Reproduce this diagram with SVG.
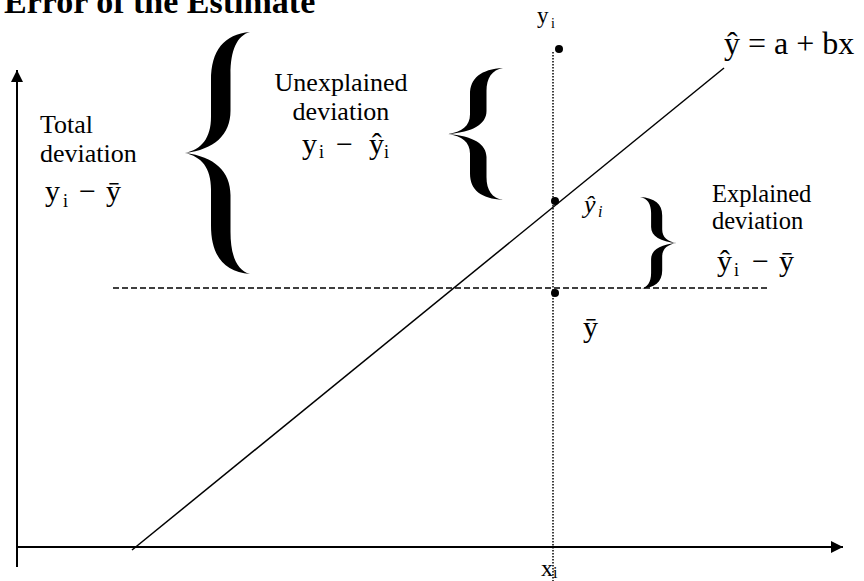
<svg xmlns="http://www.w3.org/2000/svg" width="864" height="581" viewBox="0 0 864 581">
<style>
.t{font-family:"Liberation Serif","Times New Roman",serif;font-size:26px;fill:#000}
.m{font-family:"Liberation Serif","DejaVu Serif",serif;font-size:30px;fill:#000}
.s{font-family:"Liberation Serif","DejaVu Serif",serif;font-size:18px;fill:#000}
.ax{stroke:#000;stroke-width:2;fill:none}
.ln{stroke:#000;stroke-width:1.5;fill:none}
.dash{stroke:#000;stroke-width:1.5;stroke-dasharray:6 3;fill:none}
.dotl{stroke:#000;stroke-width:1.5;stroke-dasharray:1.5 1.5;fill:none}
.br{fill:#000}
</style>
<defs>
<path id="brace" d="M 1,-1 C 0.6,-0.98 0.4,-0.85 0.4,-0.6 L 0.4,-0.3 C 0.4,-0.12 0.25,-0.03 0,0 C 0.25,0.03 0.4,0.12 0.4,0.3 L 0.4,0.6 C 0.4,0.85 0.6,0.98 1,1 C 0.8,0.97 0.7,0.85 0.7,0.65 L 0.7,0.35 C 0.7,0.15 0.45,0.03 0,0 C 0.45,-0.03 0.7,-0.15 0.7,-0.35 L 0.7,-0.65 C 0.7,-0.85 0.8,-0.97 1,-1 Z"/>
<marker id="arr" markerUnits="userSpaceOnUse" markerWidth="14" markerHeight="14" refX="12" refY="6" orient="auto">
<path d="M0,0 L12,6 L0,12 Z" fill="#000"/>
</marker>
</defs>
<rect width="864" height="581" fill="#fff"/>
<text id="title" x="4" y="13" style="font-family:'Liberation Serif','Times New Roman',serif;font-size:34px;font-weight:bold">Error of the Estimate</text>
<g id="connectors">
<line class="ax" x1="17" y1="567" x2="17" y2="70" marker-end="url(#arr)"/>
<line class="ax" x1="17" y1="547" x2="843" y2="547" marker-end="url(#arr)"/>
<line class="dotl" x1="553" y1="52" x2="553" y2="581"/>
<line class="dash" x1="113" y1="288" x2="767" y2="288"/>
<line class="ln" x1="132" y1="550" x2="724" y2="68"/>
</g>
<g id="points">
<circle cx="559" cy="49" r="4"/>
<circle cx="555" cy="201" r="4"/>
<circle cx="555" cy="293" r="4"/>
</g>
<g id="braces">
<use href="#brace" class="br" transform="translate(185,153) scale(65,121)"/>
<use href="#brace" class="br" transform="translate(448,134) scale(55,66)"/>
<use href="#brace" class="br" transform="translate(677,243) scale(-37,46)"/>
</g>
<g id="yi-top">
<text x="537" y="23" class="m" style="font-size:23px">y</text>
<text x="551" y="28" class="s" style="font-size:14px">i</text>
</g>
<g id="equation">
<text x="724" y="54" class="m" style="font-size:32px">ŷ = a + bx</text>
</g>
<g id="total">
<text x="40" y="133" class="t">Total</text>
<text x="40" y="162" class="t">deviation</text>
<text x="45" y="201" class="m">y</text>
<text x="63" y="207" class="s">i</text>
<text x="79" y="201" class="m">−</text>
<text x="106" y="201" class="m">ȳ</text>
</g>
<g id="unexplained">
<text x="341" y="91" class="t" text-anchor="middle">Unexplained</text>
<text x="341" y="120" class="t" text-anchor="middle">deviation</text>
<text x="302" y="154" class="m">y</text>
<text x="319" y="158" class="s">i</text>
<text x="336" y="154" class="m">−</text>
<text x="369" y="154" class="m">ŷ</text>
<text x="384" y="158" class="s">i</text>
</g>
<g id="explained">
<text x="712" y="202" class="t" style="font-size:24.5px">Explained</text>
<text x="712" y="229" class="t" style="font-size:24.5px">deviation</text>
<text x="717" y="271" class="m">ŷ</text>
<text x="734" y="276" class="s">i</text>
<text x="752" y="271" class="m">−</text>
<text x="779" y="271" class="m">ȳ</text>
</g>
<g id="yhat-label">
<text x="584" y="213" class="m" style="font-size:26px;font-style:italic">ŷ</text>
<text x="598" y="217" class="s" style="font-size:16px;font-style:italic">i</text>
</g>
<g id="ybar-label">
<text x="583" y="337" class="m">ȳ</text>
</g>
<g id="xi-label">
<text x="541" y="576" class="m" style="font-size:24px">x</text>
<text x="553" y="578" class="s" style="font-size:16px">i</text>
</g>
</svg>
